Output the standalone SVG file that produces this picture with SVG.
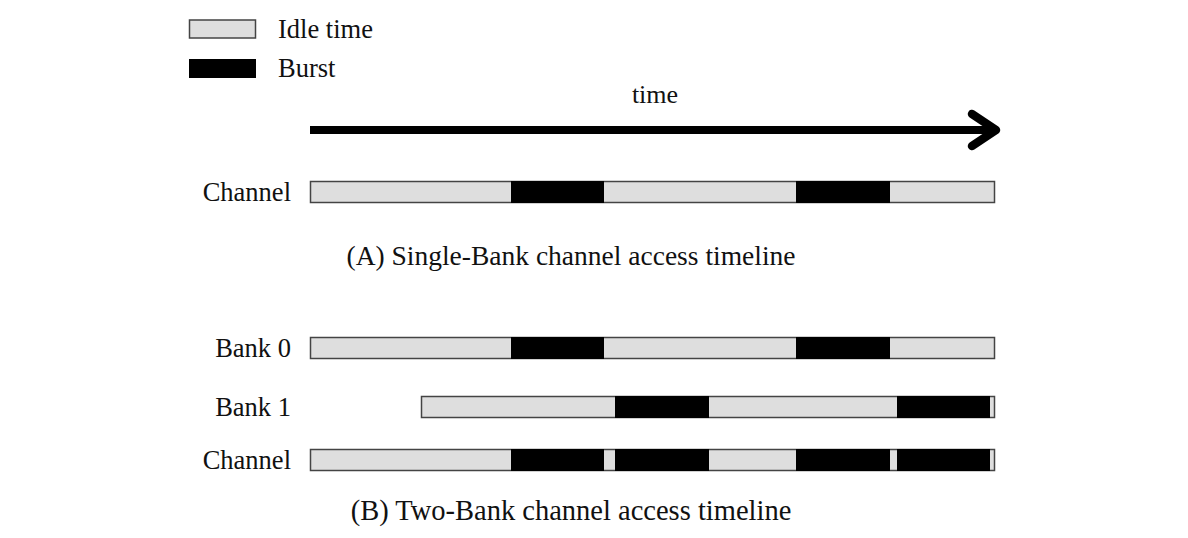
<svg xmlns="http://www.w3.org/2000/svg" width="1188" height="538" viewBox="0 0 1188 538">
<style>
text{font-family:"Liberation Serif","Times New Roman",serif;fill:#111;}
.lbl{font-size:26.5px;text-anchor:end;}
.leg{font-size:26.5px;}
.cap{font-size:27.5px;text-anchor:middle;}
.idle{fill:#dedede;stroke:#444;stroke-width:1.5;}
.burst{fill:#000;}
</style>
<rect width="1188" height="538" fill="#fff"/>
<g id="legend">
<rect class="idle" x="189.5" y="20" width="66" height="18"/>
<text class="leg" x="278" y="38">Idle time</text>
<rect class="burst" x="189" y="59" width="67" height="19"/>
<text class="leg" x="278" y="77">Burst</text>
</g>
<g id="time-axis">
<line x1="310" y1="130" x2="993" y2="130" stroke="#000" stroke-width="8"/>
<polyline points="972,114 996,130 972,146" fill="none" stroke="#000" stroke-width="8.5" stroke-linecap="round" stroke-linejoin="round"/>
<text class="cap" x="655" y="103" style="font-size:26px">time</text>
</g>
<g id="single-channel">
<text class="lbl" x="291" y="201">Channel</text>
<rect class="idle" x="310.5" y="181.5" width="684" height="21"/>
<rect class="burst" x="511" y="181" width="93" height="22"/>
<rect class="burst" x="796" y="181" width="94" height="22"/>
</g>
<text id="caption-a" class="cap" x="571" y="265">(A) Single-Bank channel access timeline</text>
<g id="bank0">
<text class="lbl" x="291" y="357">Bank 0</text>
<rect class="idle" x="310.5" y="337.5" width="684" height="21"/>
<rect class="burst" x="511" y="337" width="93" height="22"/>
<rect class="burst" x="796" y="337" width="94" height="22"/>
</g>
<g id="bank1">
<text class="lbl" x="291" y="416">Bank 1</text>
<rect class="idle" x="421.5" y="396.5" width="573" height="21"/>
<rect class="burst" x="615" y="396" width="94" height="22"/>
<rect class="burst" x="897" y="396" width="93" height="22"/>
</g>
<g id="two-bank-channel">
<text class="lbl" x="291" y="469">Channel</text>
<rect class="idle" x="310.5" y="449.5" width="684" height="21"/>
<rect class="burst" x="511" y="449" width="93" height="22"/>
<rect class="burst" x="615" y="449" width="94" height="22"/>
<rect class="burst" x="796" y="449" width="94" height="22"/>
<rect class="burst" x="897" y="449" width="93" height="22"/>
</g>
<text id="caption-b" class="cap" x="571" y="520" style="font-size:28.5px">(B) Two-Bank channel access timeline</text>
</svg>
